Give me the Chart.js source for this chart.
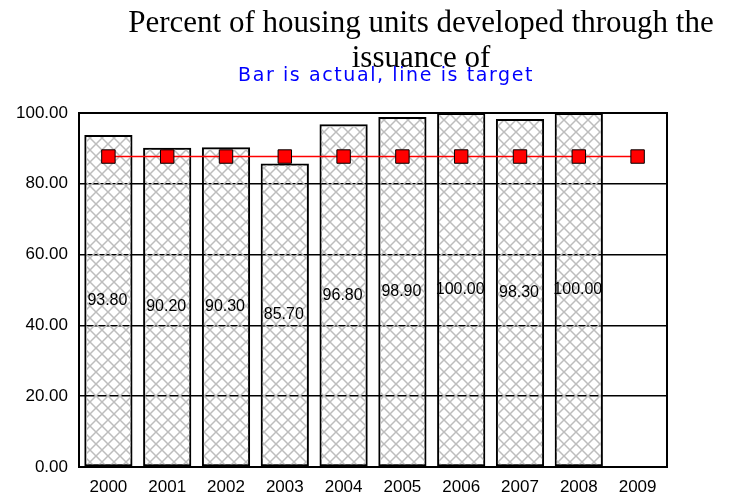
<!DOCTYPE html>
<html>
<head>
<meta charset="utf-8">
<script src="https://cdn.jsdelivr.net/npm/chart.js@4/dist/chart.umd.min.js"></script>
<style>
  html, body { margin: 0; padding: 0; background: #fff; }
  #wrap { position: relative; width: 729px; height: 495px; overflow: hidden; }
  #c { position: absolute; left: 0; top: 0; }
  #heading { position: absolute; left: 115px; top: 4px; width: 612px; text-align: center;
    font-family: "Liberation Serif", "Times New Roman", serif; font-size: 31px; line-height: 35px; color: #000; }
  #sub { position: absolute; left: 238px; top: 63px; white-space: nowrap;
    font-family: "DejaVu Sans", sans-serif; font-size: 19px; line-height: 22px; letter-spacing: 1.6px; color: #0000ff; }
</style>
</head>
<body>
<div id="wrap">
  <canvas id="c" width="729" height="495"></canvas>
  <div id="heading">Percent of housing units developed through the issuance of</div>
  <div id="sub">Bar is actual, line is target</div>
</div>
<script>
const categories = ["2000", "2001", "2002", "2003", "2004", "2005", "2006", "2007", "2008", "2009"];
const actualValues = [93.8, 90.2, 90.3, 85.7, 96.8, 98.9, 100.0, 98.3, 100.0, null];
const targetValues = [87.7, 87.7, 87.7, 87.7, 87.7, 87.7, 87.7, 87.7, 87.7, 87.7];
const yTicks = [0, 20, 40, 60, 80, 100];

function makeHatch() {
  const t = document.createElement('canvas');
  t.width = 12; t.height = 12;
  const g = t.getContext('2d');
  g.strokeStyle = '#bdbdbd';
  g.lineWidth = 1.5;
  g.beginPath();
  g.moveTo(-1, -1); g.lineTo(13, 13);
  g.moveTo(13, -1); g.lineTo(-1, 13);
  g.stroke();
  return g.createPattern(t, 'repeat');
}

const ctx = document.getElementById('c').getContext('2d');
const hatch = makeHatch();

const framePlugin = {
  id: 'frame',
  afterDatasetsDraw(chart) {
    const a = chart.chartArea, c = chart.ctx;
    c.save();
    c.strokeStyle = '#000';
    c.lineWidth = 2;
    c.strokeRect(a.left, a.top, a.right - a.left, a.bottom - a.top);
    c.restore();
  }
};

const labelPlugin = {
  id: 'barLabels',
  afterDatasetsDraw(chart) {
    const c = chart.ctx;
    const meta = chart.getDatasetMeta(1);
    c.save();
    c.font = '16px "Liberation Sans", Arial, sans-serif';
    c.fillStyle = '#000';
    c.textAlign = 'center';
    c.textBaseline = 'middle';
    meta.data.forEach((bar, i) => {
      const v = actualValues[i];
      if (v === null || v === undefined) return;
      const p = bar.getProps(['x', 'y', 'base'], true);
      c.fillText(v.toFixed(2), p.x - 1, (p.y + p.base) / 2);
    });
    c.restore();
  }
};

new Chart(ctx, {
  data: {
    labels: categories,
    datasets: [
      {
        type: 'line',
        label: 'Target',
        data: targetValues,
        borderColor: '#ff0000',
        borderWidth: 1.5,
        backgroundColor: '#ff0000',
        pointStyle: 'rect',
        pointRadius: 9.5,
        pointBackgroundColor: '#ff0000',
        pointBorderColor: '#000',
        pointBorderWidth: 1,
        tension: 0,
        order: 0
      },
      {
        type: 'bar',
        label: 'Actual',
        data: actualValues,
        backgroundColor: hatch,
        borderColor: '#000',
        borderWidth: 2,
        borderSkipped: false,
        barPercentage: 0.82,
        categoryPercentage: 1.0,
        order: 1
      }
    ]
  },
  options: {
    responsive: false,
    animation: false,
    layout: { padding: { top: 113, left: 0, right: 62, bottom: 0 } },
    plugins: {
      legend: { display: false },
      title: { display: false },
      tooltip: { enabled: false }
    },
    scales: {
      x: {
        offset: true,
        grid: { display: false, drawTicks: false },
        border: { display: false },
        ticks: {
          color: '#000',
          padding: 10,
          font: { family: '"Liberation Sans", Arial, sans-serif', size: 17 },
          maxRotation: 0
        },
        afterFit(s) { s.height = 28; }
      },
      y: {
        min: 0,
        max: 100,
        afterBuildTicks(s) { s.ticks = yTicks.map(v => ({ value: v })); },
        grid: { color: '#000', lineWidth: 1.5, drawTicks: false },
        border: { display: false },
        ticks: {
          color: '#000',
          padding: 11,
          font: { family: '"Liberation Sans", Arial, sans-serif', size: 17 },
          callback: v => Number(v).toFixed(2)
        },
        afterFit(s) { s.width = 79; }
      }
    }
  },
  plugins: [framePlugin, labelPlugin]
});
</script>
</body>
</html>
